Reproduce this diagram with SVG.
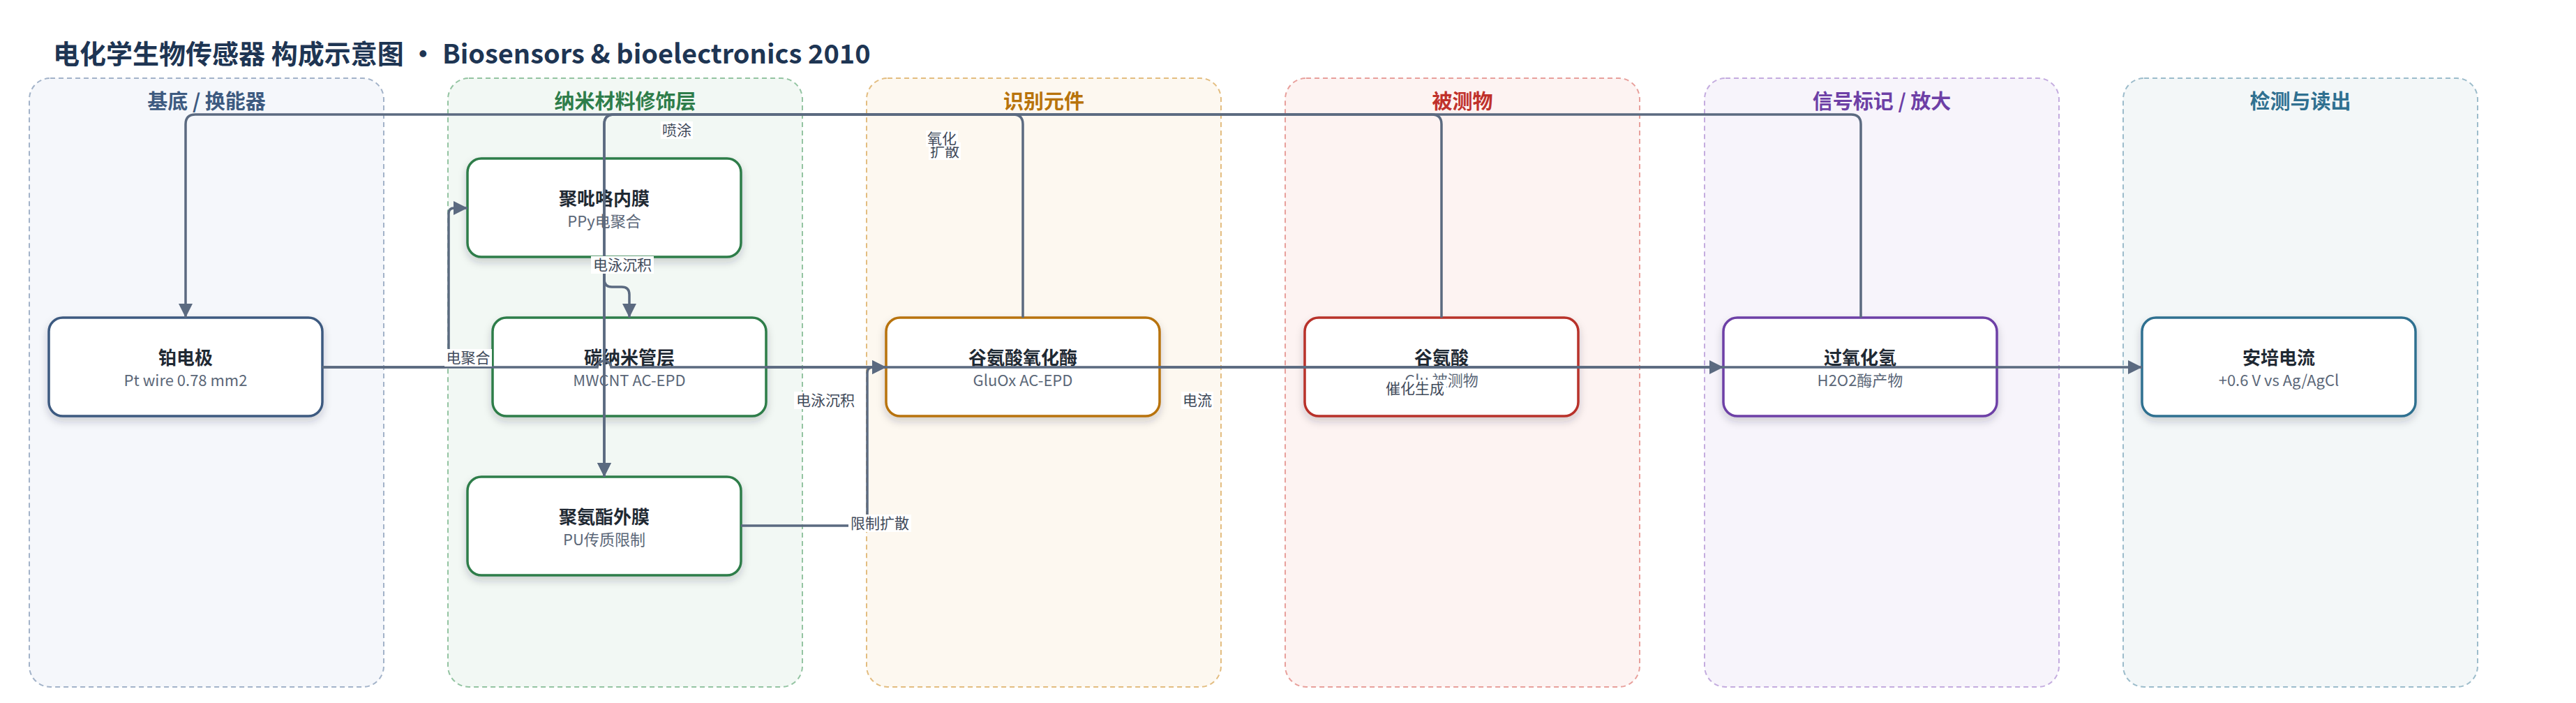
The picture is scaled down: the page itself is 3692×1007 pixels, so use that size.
<svg xmlns="http://www.w3.org/2000/svg" width="3692" height="1007" viewBox="0 0 3692 1007">
<defs>
<style>
text{font-family:"Noto Sans CJK SC","Noto Sans",sans-serif;}
.title{font-size:38px;font-weight:700;fill:#1e3553;}
.lane{stroke-width:2;stroke-dasharray:7 5;}
.lt{font-size:29px;font-weight:700;text-anchor:middle;}
.node{fill:#ffffff;stroke-width:3.5;filter:url(#sh);}
.nt{font-size:26px;font-weight:700;fill:#1f2933;text-anchor:middle;}
.ns{font-size:22px;fill:#5b6778;text-anchor:middle;}
.edge{fill:none;stroke:#5b6a80;stroke-width:3.5;}
.arrow{marker-end:url(#ah);}
.lb{fill:#ffffff;}
.lbt{font-size:21px;fill:#3f4a5a;text-anchor:middle;}
</style>
<filter id="sh" x="-10%" y="-15%" width="120%" height="140%">
<feDropShadow dx="0" dy="6" stdDeviation="6" flood-color="#1e2a3a" flood-opacity="0.2"/>
</filter>
<marker id="ah" markerUnits="userSpaceOnUse" markerWidth="20" markerHeight="20" viewBox="0 0 20 20" refX="20" refY="10" orient="auto">
<path d="M0,0 L20,10 L0,20 z" fill="#5b6a80"/>
</marker>
</defs>
<rect x="0" y="0" width="3692" height="1007" fill="#ffffff"/>
<text class="title" x="76" y="91">电化学生物传感器 构成示意图 · Biosensors &amp; bioelectronics 2010</text>

<g id="lanes">
<g id="lane-substrate">
<rect class="lane" x="42" y="112" width="508" height="872" rx="30" fill="#f5f7fb" stroke="#a3b3c9"/>
<text class="lt" x="296" y="156" fill="#3d5a80">基底 / 换能器</text>
</g>
<g id="lane-nano">
<rect class="lane" x="642" y="112" width="508" height="872" rx="30" fill="#f2f8f4" stroke="#94c4a2"/>
<text class="lt" x="896" y="156" fill="#2e7d4a">纳米材料修饰层</text>
</g>
<g id="lane-recog">
<rect class="lane" x="1242" y="112" width="508" height="872" rx="30" fill="#fdf8f0" stroke="#e3bd80"/>
<text class="lt" x="1496" y="156" fill="#b8730b">识别元件</text>
</g>
<g id="lane-analyte">
<rect class="lane" x="1842" y="112" width="508" height="872" rx="30" fill="#fdf3f2" stroke="#e8a09c"/>
<text class="lt" x="2096" y="156" fill="#c0312b">被测物</text>
</g>
<g id="lane-signal">
<rect class="lane" x="2443" y="112" width="508" height="872" rx="30" fill="#f7f4fb" stroke="#c4acdf"/>
<text class="lt" x="2697" y="156" fill="#6d3fa6">信号标记 / 放大</text>
</g>
<g id="lane-readout">
<rect class="lane" x="3043" y="112" width="508" height="872" rx="30" fill="#f3f7f8" stroke="#9cbccb"/>
<text class="lt" x="3297" y="156" fill="#2f7090">检测与读出</text>
</g>
</g>

<g id="nodes">
<g id="n-pt">
<rect class="node" x="70" y="455" width="392" height="141" rx="20" stroke="#3d5a80"/>
<text class="nt" x="266" y="522">铂电极</text>
<text class="ns" x="266" y="553">Pt wire 0.78 mm2</text>
</g>
<g id="n-ppy">
<rect class="node" x="670" y="227" width="392" height="141" rx="20" stroke="#2e7d4a"/>
<text class="nt" x="866" y="294">聚吡咯内膜</text>
<text class="ns" x="866" y="325">PPy电聚合</text>
</g>
<g id="n-cnt">
<rect class="node" x="706" y="455" width="392" height="141" rx="20" stroke="#2e7d4a"/>
<text class="nt" x="902" y="522">碳纳米管层</text>
<text class="ns" x="902" y="553">MWCNT AC-EPD</text>
</g>
<g id="n-pu">
<rect class="node" x="670" y="683" width="392" height="141" rx="20" stroke="#2e7d4a"/>
<text class="nt" x="866" y="750">聚氨酯外膜</text>
<text class="ns" x="866" y="781">PU传质限制</text>
</g>
<g id="n-gluox">
<rect class="node" x="1270" y="455" width="392" height="141" rx="20" stroke="#b8730b"/>
<text class="nt" x="1466" y="522">谷氨酸氧化酶</text>
<text class="ns" x="1466" y="553">GluOx AC-EPD</text>
</g>
<g id="n-glu">
<rect class="node" x="1870" y="455" width="392" height="141" rx="20" stroke="#b8302a"/>
<text class="nt" x="2066" y="522">谷氨酸</text>
<text class="ns" x="2066" y="553">Glu 被测物</text>
</g>
<g id="n-h2o2">
<rect class="node" x="2470" y="455" width="392" height="141" rx="20" stroke="#6d3fa6"/>
<text class="nt" x="2666" y="522">过氧化氢</text>
<text class="ns" x="2666" y="553">H2O2酶产物</text>
</g>
<g id="n-amp">
<rect class="node" x="3070" y="455" width="392" height="141" rx="20" stroke="#2f7090"/>
<text class="nt" x="3266" y="522">安培电流</text>
<text class="ns" x="3266" y="553">+0.6 V vs Ag/AgCl</text>
</g>
</g>

<g id="connectors">
<path id="e-pt-ppy" class="edge arrow" d="M462,526 H635 Q643,526 643,518 V306 Q643,298 651,298 H670"/>
<path id="e-ppy-cnt" class="edge arrow" d="M866,368 V400 Q866,411 877,411 H891 Q902,411 902,422 V455"/>
<path id="e-cnt-gluox" class="edge arrow" d="M1098,526 H1270"/>
<path id="e-gluox-pu" class="edge arrow" d="M1466,455 V178 Q1466,164 1452,164 H880 Q866,164 866,178 V683"/>
<path id="e-pu-gluox" class="edge arrow" d="M1062,753 H1231 Q1243,753 1243,741 V534 Q1243,526 1251,526 H1270"/>
<path id="e-glu-pu" class="edge arrow" d="M2066,455 V178 Q2066,164 2052,164 H880 Q866,164 866,178 V683"/>
<path id="e-gluox-h2o2" class="edge arrow" d="M1662,526 H2470"/>
<path id="e-h2o2-pt" class="edge arrow" d="M2667,455 V178 Q2667,164 2653,164 H280 Q266,164 266,178 V455"/>
<path id="e-pt-amp" class="edge arrow" d="M462,526 H856 A10,9 0 0 1 876,526 H3070"/>
</g>

<g id="edge-labels">
<g><rect class="lb" x="637" y="500" width="68" height="25"/><text class="lbt" x="671" y="520">电聚合</text></g>
<g><rect class="lb" x="847" y="367" width="90" height="25"/><text class="lbt" x="892" y="387">电泳沉积</text></g>
<g><rect class="lb" x="1138" y="561" width="90" height="25"/><text class="lbt" x="1183" y="581">电泳沉积</text></g>
<g><rect class="lb" x="947" y="174" width="46" height="25"/><text class="lbt" x="970" y="194">喷涂</text></g>
<g><rect class="lb" x="1216" y="737" width="90" height="25"/><text class="lbt" x="1261" y="757">限制扩散</text></g>
<g><rect class="lb" x="1331" y="204" width="46" height="25"/><text class="lbt" x="1354" y="224">扩散</text></g>
<g><rect class="lb" x="1327" y="187" width="46" height="23"/><text class="lbt" x="1350" y="206">氧化</text></g>
<g><rect class="lb" x="1693" y="561" width="46" height="25"/><text class="lbt" x="1716" y="581">电流</text></g>
<g><rect class="lb" x="1983" y="544" width="90" height="25"/><text class="lbt" x="2028" y="564">催化生成</text></g>
</g>
</svg>
